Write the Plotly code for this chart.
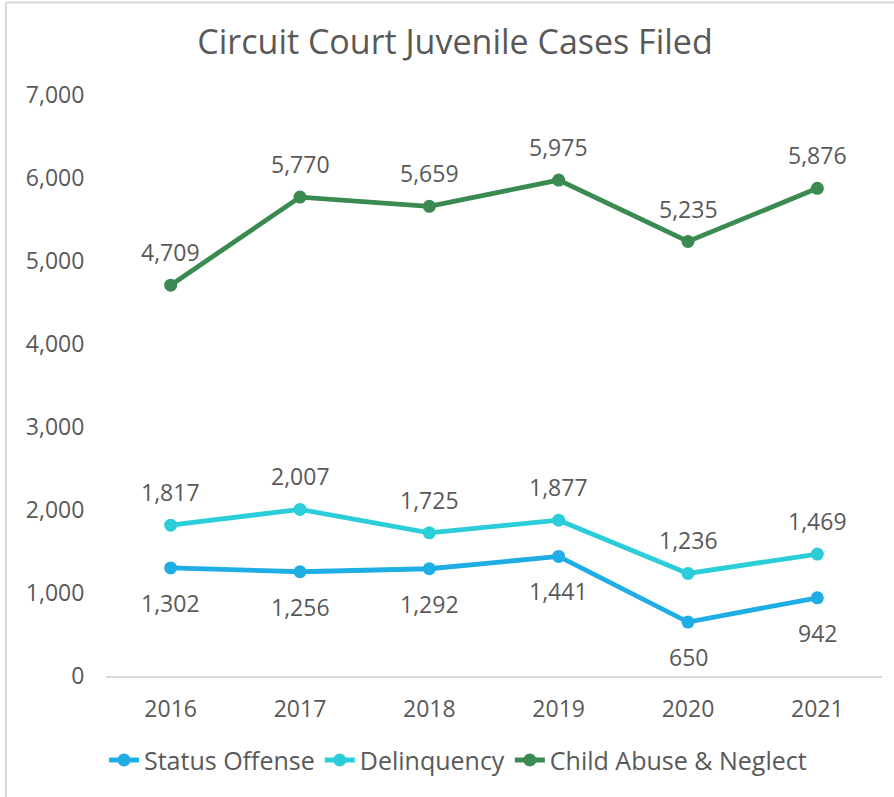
import plotly.graph_objects as go

years = [2016, 2017, 2018, 2019, 2020, 2021]
status_offense = [1302, 1256, 1292, 1441, 650, 942]
delinquency = [1817, 2007, 1725, 1877, 1236, 1469]
child_abuse = [4709, 5770, 5659, 5975, 5235, 5876]

BLUE = "#1EADE4"
CYAN = "#2BCED8"
GREEN = "#3A8A52"
TEXT = "#595959"
BORDER = "#D9D9D9"
FONT = "Open Sans"

# (name, values, colour, label offset in px: + above, - below)
series = [
    ("Status Offense", status_offense, BLUE, -35),
    ("Delinquency", delinquency, CYAN, 33),
    ("Child Abuse & Neglect", child_abuse, GREEN, 33),
]

fig = go.Figure()

for name, values, color, shift in series:
    fig.add_trace(go.Scatter(
        x=list(years), y=list(values), name=name, mode="lines+markers",
        line=dict(color=color, width=4.8),
        marker=dict(color=color, size=13),
    ))
    # data labels, offset away from the line like the Excel original
    for yr, v in zip(years, values):
        fig.add_annotation(
            x=yr, y=v, xref="x", yref="y", text=f"{v:,}",
            showarrow=False, yshift=shift,
            font=dict(color=TEXT, size=23, family=FONT),
        )

# outer chart border (top and left edges visible in the crop)
fig.add_shape(type="line", xref="paper", yref="paper",
              x0=-0.129, x1=-0.129, y0=-0.22, y1=1.159,
              line=dict(color=BORDER, width=2))
fig.add_shape(type="line", xref="paper", yref="paper",
              x0=-0.129, x1=1.02, y0=1.159, y1=1.159,
              line=dict(color=BORDER, width=2))

fig.update_layout(
    width=894, height=797,
    margin=dict(l=106, r=12, t=95, b=121),
    paper_bgcolor="white", plot_bgcolor="white",
    font=dict(family=FONT, color=TEXT, size=23),
    title=dict(
        text="Circuit Court Juvenile Cases Filed",
        x=0.509, xref="container", xanchor="center",
        y=0.947, yref="container", yanchor="middle",
        font=dict(size=34, color=TEXT, family=FONT),
    ),
    xaxis=dict(
        type="linear", range=[years[0] - 0.5, years[-1] + 0.5],
        tickvals=years, ticktext=[str(y) for y in years],
        showgrid=False, zeroline=False,
        showline=True, linecolor=BORDER, linewidth=2,
        ticks="outside", ticklen=11, tickcolor="rgba(0,0,0,0)",
        tickfont=dict(size=23, color=TEXT),
    ),
    yaxis=dict(
        type="linear", range=[0, 7000], dtick=1000, tickformat=",",
        showgrid=False, zeroline=False, showline=False,
        ticks="outside", ticklen=16, tickcolor="rgba(0,0,0,0)",
        tickfont=dict(size=23, color=TEXT),
    ),
    legend=dict(
        orientation="h", x=0.4536, xanchor="center",
        y=-0.145, yanchor="middle",
        font=dict(size=25, color=TEXT),
    ),
    showlegend=True,
)

fig.write_html(
    "out.html",
    config={"displayModeBar": False},
    post_script="document.body.style.margin='0';",
)
